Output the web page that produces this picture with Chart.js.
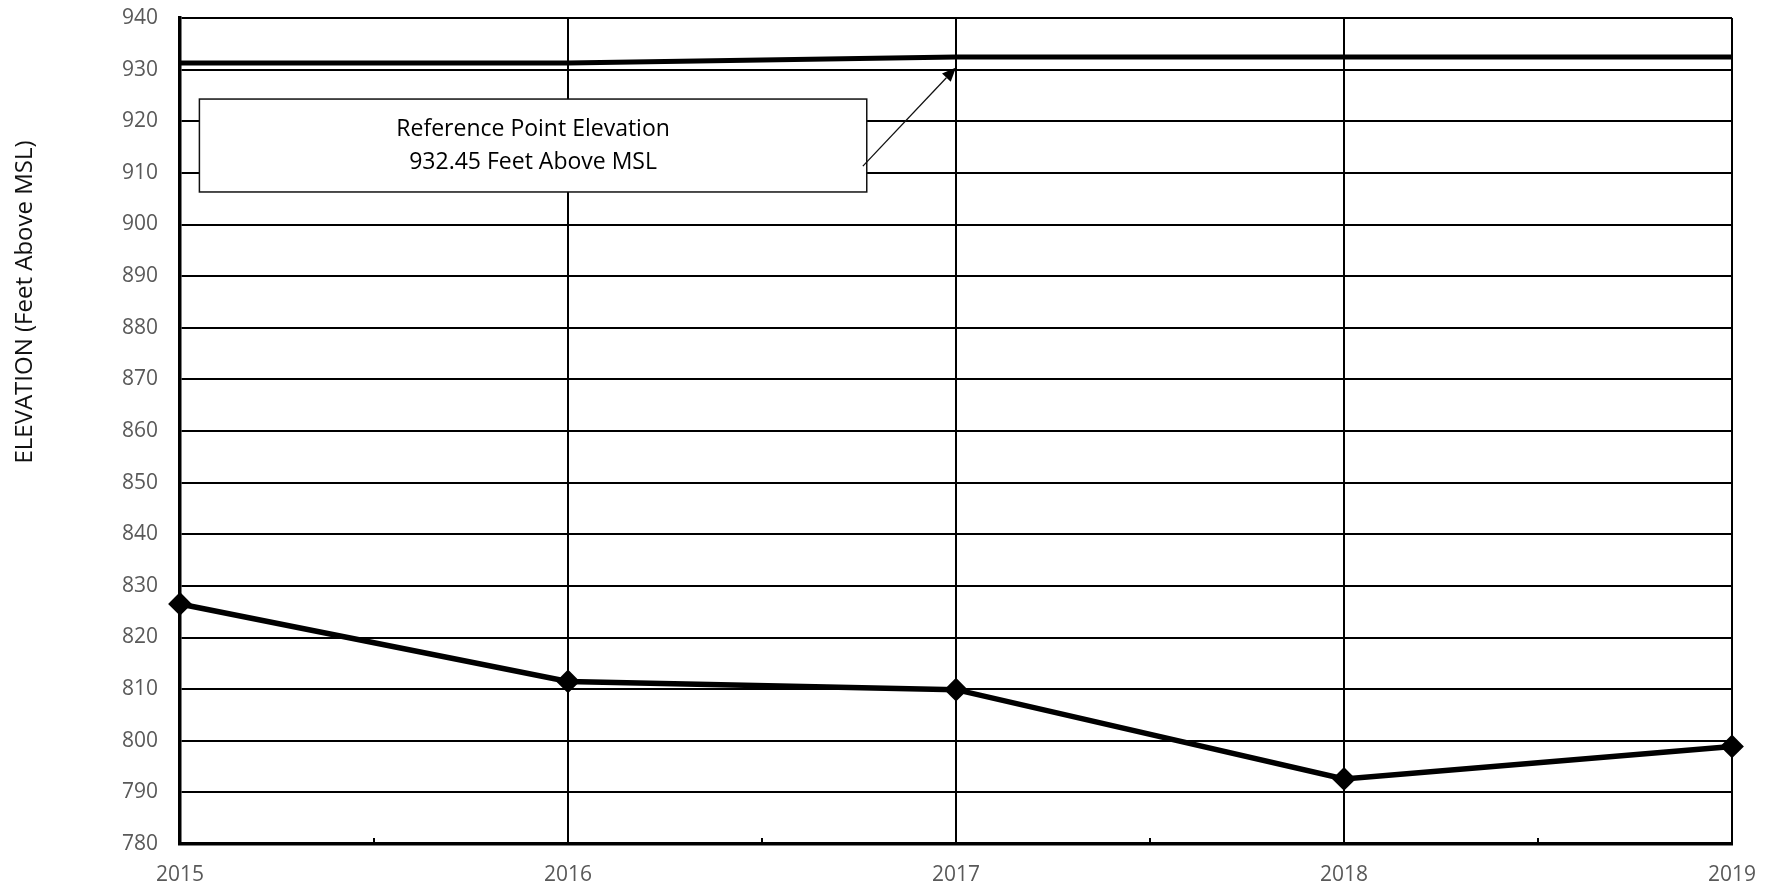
<!DOCTYPE html>
<html>
  <head>
    <title>Elevation</title>
    <script src="https://cdn.jsdelivr.net/npm/chart.js"></script>
    <style>
      body,
      html {
        margin: 0;
        width: 100%;
        height: 100%;
        overflow: hidden;
        background-color: white;
      }
      div {
        width: 1779px;
        height: 892px;
      }
    </style>
  </head>
  <body>
    <div>
      <canvas id="chartCanvas"></canvas>
    </div>
    <script>
      // data
      const years = [2015, 2016, 2017, 2018, 2019];
      const waterLevel = [826.5, 811.5, 809.9, 792.6, 798.9];
      const referencePoint = [931.3, 931.3, 932.45, 932.45, 932.45];
      const yTicks = [780, 940, 10]; // min, max, step
      const axisTitle = "ELEVATION (Feet Above MSL)";
      const noteLines = ["Reference Point Elevation", "932.45 Feet Above MSL"];
      // note box and arrow, in data units
      const noteBox = { x0: 2015.05, x1: 2016.77, yTop: 924.3, yBottom: 906.3 };
      const noteArrow = { fromX: 2016.76, fromY: 911.3, toX: 2017, toY: 930.4 };

      const FONT = "'Open Sans', sans-serif";

      const extras = {
        id: "extras",
        afterDatasetsDraw(chart) {
          const c = chart.ctx;
          const xs = chart.scales.x;
          const ys = chart.scales.y;
          const area = chart.chartArea;

          // small half-year ticks on the bottom axis
          c.save();
          c.strokeStyle = "black";
          c.lineWidth = 2;
          for (let i = 0; i < years.length - 1; i++) {
            const px = xs.getPixelForValue(years[i] + 0.5);
            c.beginPath();
            c.moveTo(px, area.bottom);
            c.lineTo(px, area.bottom - 6);
            c.stroke();
          }

          // note box
          const bx0 = xs.getPixelForValue(noteBox.x0);
          const bx1 = xs.getPixelForValue(noteBox.x1);
          const by0 = ys.getPixelForValue(noteBox.yTop);
          const by1 = ys.getPixelForValue(noteBox.yBottom);
          c.fillStyle = "white";
          c.fillRect(bx0, by0, bx1 - bx0, by1 - by0);
          c.strokeStyle = "#111";
          c.lineWidth = 1.5;
          c.strokeRect(bx0, by0, bx1 - bx0, by1 - by0);
          c.fillStyle = "black";
          c.font = "23px " + FONT;
          c.textAlign = "center";
          c.textBaseline = "middle";
          const cx = (bx0 + bx1) / 2;
          const h = by1 - by0;
          c.fillText(noteLines[0], cx, by0 + h * 0.33);
          c.fillText(noteLines[1], cx, by0 + h * 0.68);

          // arrow
          const ax0 = xs.getPixelForValue(noteArrow.fromX);
          const ay0 = ys.getPixelForValue(noteArrow.fromY);
          const ax1 = xs.getPixelForValue(noteArrow.toX);
          const ay1 = ys.getPixelForValue(noteArrow.toY);
          const ang = Math.atan2(ay1 - ay0, ax1 - ax0);
          const hl = 14, hw = 6;
          const bxh = ax1 - hl * Math.cos(ang);
          const byh = ay1 - hl * Math.sin(ang);
          c.lineWidth = 1.3;
          c.beginPath();
          c.moveTo(ax0, ay0);
          c.lineTo(bxh, byh);
          c.stroke();
          c.beginPath();
          c.moveTo(ax1, ay1);
          c.lineTo(bxh + hw * Math.sin(ang), byh - hw * Math.cos(ang));
          c.lineTo(bxh - hw * Math.sin(ang), byh + hw * Math.cos(ang));
          c.closePath();
          c.fill();

          // y axis title
          c.translate(25, 302);
          c.rotate(-Math.PI / 2);
          c.fillStyle = "#111";
          c.font = "24px " + FONT;
          c.fillText(axisTitle, 0, 0);
          c.restore();
        },
      };

      var ctx = document.getElementById("chartCanvas");

      var chart = new Chart(ctx, {
        type: "line",
        data: {
          datasets: [
            {
              label: "Reference Point",
              data: years.map((y, i) => ({ x: y, y: referencePoint[i] })),
              borderColor: "black",
              borderWidth: 5,
              pointRadius: 0,
              tension: 0,
              fill: false,
              clip: false,
            },
            {
              label: "Water Level",
              data: years.map((y, i) => ({ x: y, y: waterLevel[i] })),
              borderColor: "black",
              backgroundColor: "black",
              borderWidth: 5.5,
              pointStyle: "rectRot",
              pointRadius: 8,
              pointBackgroundColor: "black",
              tension: 0,
              fill: false,
              clip: false,
            },
          ],
        },
        options: {
          devicePixelRatio: 1,
          responsive: true,
          maintainAspectRatio: false,
          animation: false,
          layout: {
            padding: { left: 0, top: 18, right: 47, bottom: 0 },
          },
          scales: {
            x: {
              type: "linear",
              min: years[0],
              max: years[years.length - 1],
              afterFit: (s) => {
                s.height = 48;
              },
              grid: {
                color: "black",
                lineWidth: 2,
                drawTicks: false,
              },
              border: { color: "black", width: 3.5 },
              ticks: {
                stepSize: 1,
                padding: 18,
                color: "#595959",
                font: { family: FONT, size: 21 },
                callback: (v) => String(v),
              },
            },
            y: {
              min: yTicks[0],
              max: yTicks[1],
              afterFit: (s) => {
                s.width = 180;
                s.paddingTop = 0;
                s.paddingBottom = 0;
              },
              grid: {
                color: "black",
                lineWidth: 2,
                drawTicks: false,
              },
              border: { color: "black", width: 3.5 },
              ticks: {
                stepSize: yTicks[2],
                padding: 22,
                color: "#595959",
                font: { family: FONT, size: 21 },
              },
            },
          },
          plugins: {
            legend: { display: false },
            tooltip: { enabled: false },
          },
        },
        plugins: [extras],
      });
    </script>
  </body>
</html>
